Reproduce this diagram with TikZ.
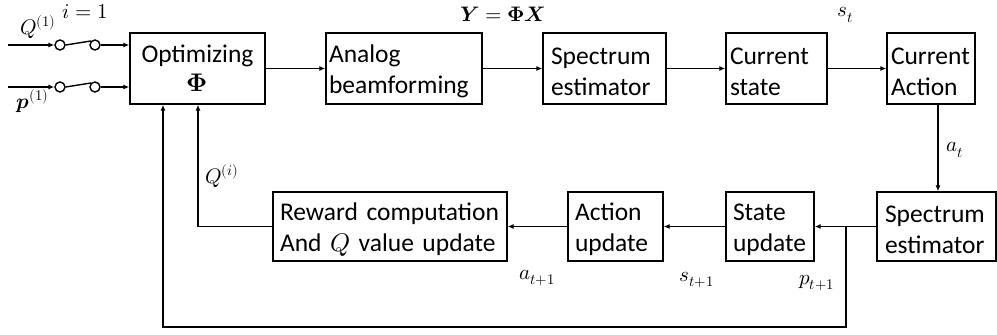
\documentclass[tikz,border=0pt]{standalone}
\usepackage{amsmath}
\usepackage{unicode-math}
\setmainfont{Carlito}
\setmathfont{Latin Modern Math}
\usetikzlibrary{arrows.meta,calc}
\newcommand{\tstrut}{\rule{0pt}{23pt}}
\begin{document}
\begin{tikzpicture}[x=1pt,y=-1pt,
  box/.style={draw,line width=1.4pt,minimum height=71pt,inner xsep=0pt,inner ysep=0pt,align=left,font=\fontsize{25.5}{31}\selectfont},
  lab/.style={font=\fontsize{21}{24}\selectfont,inner sep=0pt},
  arr/.style={line width=1.4pt,-{Latex[length=6pt,width=5pt]}},
  ln/.style={line width=1.4pt},
  sw/.style={circle,draw,line width=1.4pt,minimum size=10pt,inner sep=0pt}]
\useasboundingbox (0,0) rectangle (997,335);
% top row
\node[box,minimum width=135pt,text width=129pt,align=center] (opt) at (197.5,68.5) {Optimizing\\[-2pt]$\symbf{\Phi}$};
\node[box,minimum width=156pt,text width=150pt] (ana) at (404,68.5) {\tstrut Analog\\beamforming};
\node[box,minimum width=123pt,text width=107pt] (spe1) at (604.5,68.5) {\tstrut Spectrum\\estimator};
\node[box,minimum width=101pt,text width=93pt] (cs) at (776.5,68.5) {\tstrut Current\\state};
\node[box,minimum width=88pt,text width=80pt] (ca) at (931,68.5) {\tstrut Current\\Action};
% bottom row
\node[box,minimum width=234pt,minimum height=69pt,text width=220pt] (rew) at (390,226.5) {\tstrut Reward computation\\And $Q$ value update};
\node[box,minimum width=95pt,minimum height=69pt,text width=81pt] (au) at (615.5,226.5) {\tstrut Action\\update};
\node[box,minimum width=88pt,minimum height=69pt,text width=74pt] (su) at (770,226.5) {\tstrut State\\update};
\node[box,minimum width=119pt,minimum height=69pt,text width=103pt] (spe2) at (936.5,226.5) {\tstrut Spectrum\\estimator};
% switches
\node[sw] (c1) at (60,45) {};
\node[sw] (c2) at (95,45) {};
\node[sw] (c3) at (60,87) {};
\node[sw] (c4) at (95,87) {};
\coordinate (in1) at (8,45);
\coordinate (in2) at (8,87);
\draw[arr] (in1) -- (c1.west);
\draw[arr] (in2) -- (c3.west);
\draw[ln] (c1.east) -- (c2.north west);
\draw[ln] (c3.east) -- (c4.north west);
\draw[arr] (c2.east) -- (c2.east -| opt.west);
\draw[arr] (c4.east) -- (c4.east -| opt.west);
% top arrows
\draw[arr] (opt) -- (ana);
\draw[arr] (ana) -- (spe1);
\draw[arr] (spe1) -- (cs);
\draw[arr] (cs) -- (ca);
\coordinate (cad) at ($(ca.south)+(7,0)$);
\draw[arr] (cad) -- (cad |- spe2.north);
% bottom arrows
\draw[arr] (spe2) -- (su);
\draw[arr] (su) -- (au);
\draw[arr] (au) -- (rew);
\coordinate (q1) at ($(opt.south)+(0.5,0)$);
\draw[arr] (rew.west) -| (q1);
\coordinate (br) at (846,226.5);
\coordinate (lo) at (846,327);
\coordinate (q2) at ($(opt.south)+(-34.5,0)$);
\draw[arr] (br) -- (lo) -| (q2);
% labels
\node[lab] (li) at (85,12) {$i=1$};
\node[lab] (lq) at (38,27) {$Q^{(1)}$};
\node[lab] (lp) at (33,101) {$\symbfit{p}^{(1)}$};
\node[lab] (lqi) at (222,176) {$Q^{(i)}$};
\node[lab] (ly) at (503,14) {$\symbfit{Y}=\symbf{\Phi}\symbfit{X}$};
\node[lab] (lst) at (845,15) {$s_t$};
\node[lab] (lat) at (955,150) {$a_t$};
\node[lab] (la1) at (537,278) {$a_{t+1}$};
\node[lab] (ls1) at (697,280) {$s_{t+1}$};
\node[lab] (lp1) at (817,283) {$p_{t+1}$};
\end{tikzpicture}
\end{document}
